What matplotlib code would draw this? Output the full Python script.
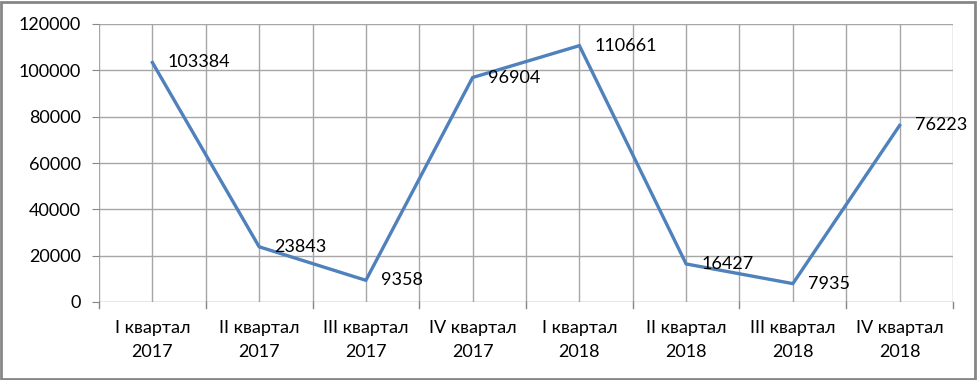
import matplotlib
matplotlib.use("Agg")
import matplotlib.pyplot as plt
from matplotlib.patches import Rectangle

categories = ["I квартал\n2017", "II квартал\n2017", "III квартал\n2017", "IV квартал\n2017",
              "I квартал\n2018", "II квартал\n2018", "III квартал\n2018", "IV квартал\n2018"]
values = [103384, 23843, 9358, 96904, 110661, 16427, 7935, 76223]
yticks = [0, 20000, 40000, 60000, 80000, 100000, 120000]

plt.rcParams['font.family'] = ['Lato', 'DejaVu Sans']

W, H = 977, 380
fig = plt.figure(figsize=(W / 100, H / 100), dpi=100)
ax = fig.add_axes([99 / W, 1 - 302 / H, (953 - 99) / W, (302 - 24) / H])

n = len(values)
x = list(range(n))
ax.set_xlim(-0.5, n - 0.5)
ax.set_ylim(0, 120000)

grid_c = '#a6a6a6'
for i in range(2 * n + 1):
    gx = -0.5 + i * 0.5
    ax.axvline(gx, color=grid_c, lw=1, zorder=1)
for t in yticks:
    ax.axhline(t, color=grid_c if t > 0 else '#868686', lw=1, zorder=1)

ax.plot(x, values, color='#4F81BD', lw=2.4, solid_joinstyle='miter', zorder=3)

for xi, v in zip(x, values):
    ax.annotate(f"{v}", (xi, v), xytext=(11, 0), textcoords='offset points',
                ha='left', va='center', fontsize=13, color='black', zorder=4)

ax.set_yticks(yticks)
ax.set_yticklabels([str(t) for t in yticks], fontsize=13)
ax.set_xticks(x)
ax.set_xticklabels(categories, fontsize=13, linespacing=1.6)
ax.tick_params(axis='x', length=0, pad=13)
ax.tick_params(axis='y', length=5, color='#868686', pad=8, direction='out')
for xb in [i - 0.5 for i in range(n + 1)]:
    ax.plot([xb, xb], [0, -0.022 * 120000], color='#868686', lw=1, clip_on=False, zorder=2)

for s in ax.spines.values():
    s.set_visible(False)

fig.patches.append(Rectangle((1 / W, 1 / H), 1 - 3 / W, 1 - 3 / H, transform=fig.transFigure,
                             fill=False, edgecolor='#868686', lw=2))

fig.savefig("out.png", dpi=100)
